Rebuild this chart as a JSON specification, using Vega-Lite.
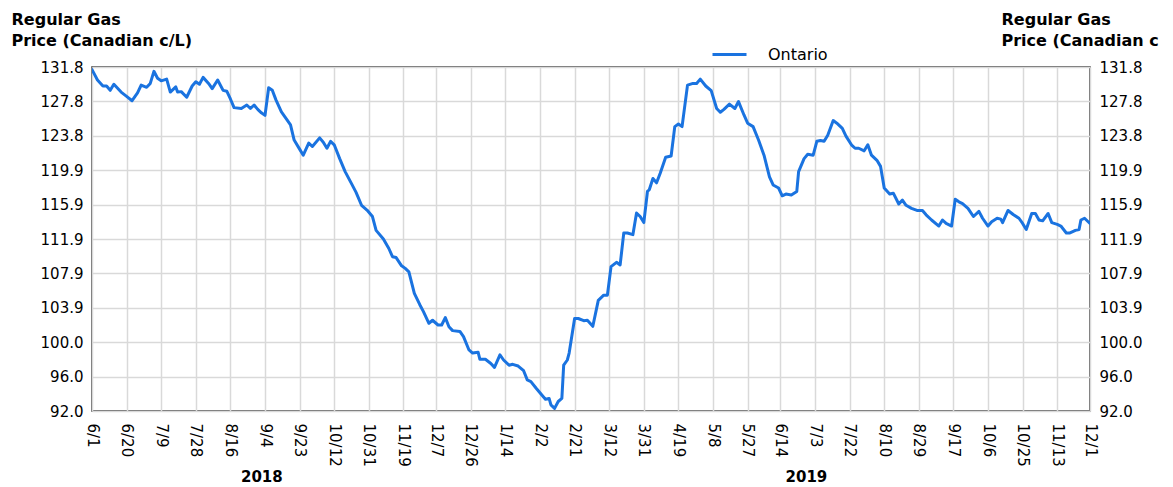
{
  "$schema": "https://vega.github.io/schema/vega-lite/v6.json",
  "width": 998,
  "height": 344,
  "autosize": {"type": "none"},
  "padding": {"left": 92, "top": 67, "right": 83, "bottom": 76},
  "background": "white",
  "config": {
    "font": "DejaVu Sans",
    "view": {"stroke": "#333333", "strokeWidth": 1.5},
    "axis": {
      "labelFontSize": 15,
      "labelColor": "#000000",
      "titleColor": "#000000",
      "gridColor": "#d9d9d9",
      "gridWidth": 1.5,
      "domain": false,
      "ticks": false
    }
  },
  "data": {
    "values": [
      {"date": "2018-06-01", "price": 131.5},
      {"date": "2018-06-04", "price": 130.3},
      {"date": "2018-06-07", "price": 129.6},
      {"date": "2018-06-09", "price": 129.6},
      {"date": "2018-06-11", "price": 129.1},
      {"date": "2018-06-13", "price": 129.8},
      {"date": "2018-06-17", "price": 128.9},
      {"date": "2018-06-20", "price": 128.4},
      {"date": "2018-06-23", "price": 127.9},
      {"date": "2018-06-26", "price": 128.8},
      {"date": "2018-06-28", "price": 129.7},
      {"date": "2018-07-01", "price": 129.45},
      {"date": "2018-07-03", "price": 129.9},
      {"date": "2018-07-05", "price": 131.3},
      {"date": "2018-07-07", "price": 130.5},
      {"date": "2018-07-09", "price": 130.2},
      {"date": "2018-07-12", "price": 130.4},
      {"date": "2018-07-14", "price": 128.9},
      {"date": "2018-07-17", "price": 129.5},
      {"date": "2018-07-18", "price": 128.9},
      {"date": "2018-07-20", "price": 128.95},
      {"date": "2018-07-23", "price": 128.3},
      {"date": "2018-07-26", "price": 129.6},
      {"date": "2018-07-28", "price": 130.1},
      {"date": "2018-07-30", "price": 129.8},
      {"date": "2018-08-01", "price": 130.6},
      {"date": "2018-08-04", "price": 129.9},
      {"date": "2018-08-06", "price": 129.3},
      {"date": "2018-08-09", "price": 130.3},
      {"date": "2018-08-12", "price": 129.1},
      {"date": "2018-08-14", "price": 129.0},
      {"date": "2018-08-16", "price": 128.1},
      {"date": "2018-08-18", "price": 127.1},
      {"date": "2018-08-22", "price": 127.0},
      {"date": "2018-08-25", "price": 127.4},
      {"date": "2018-08-27", "price": 127.0},
      {"date": "2018-08-29", "price": 127.4},
      {"date": "2018-08-31", "price": 126.9},
      {"date": "2018-09-02", "price": 126.5},
      {"date": "2018-09-04", "price": 126.2},
      {"date": "2018-09-06", "price": 129.4},
      {"date": "2018-09-08", "price": 129.1},
      {"date": "2018-09-10", "price": 128.0},
      {"date": "2018-09-13", "price": 126.6},
      {"date": "2018-09-16", "price": 125.7},
      {"date": "2018-09-18", "price": 125.1},
      {"date": "2018-09-20", "price": 123.35},
      {"date": "2018-09-23", "price": 122.3},
      {"date": "2018-09-25", "price": 121.6},
      {"date": "2018-09-28", "price": 123.0},
      {"date": "2018-09-30", "price": 122.6},
      {"date": "2018-10-04", "price": 123.6},
      {"date": "2018-10-06", "price": 123.1},
      {"date": "2018-10-08", "price": 122.4},
      {"date": "2018-10-10", "price": 123.2},
      {"date": "2018-10-12", "price": 122.8},
      {"date": "2018-10-15", "price": 121.2},
      {"date": "2018-10-18", "price": 119.7},
      {"date": "2018-10-22", "price": 118.1},
      {"date": "2018-10-24", "price": 117.3},
      {"date": "2018-10-27", "price": 115.8},
      {"date": "2018-10-30", "price": 115.25},
      {"date": "2018-11-02", "price": 114.5},
      {"date": "2018-11-04", "price": 112.9},
      {"date": "2018-11-08", "price": 111.9},
      {"date": "2018-11-11", "price": 110.8},
      {"date": "2018-11-13", "price": 109.85},
      {"date": "2018-11-15", "price": 109.75},
      {"date": "2018-11-18", "price": 108.8},
      {"date": "2018-11-20", "price": 108.5},
      {"date": "2018-11-22", "price": 108.1},
      {"date": "2018-11-25", "price": 105.6},
      {"date": "2018-11-28", "price": 104.3},
      {"date": "2018-11-30", "price": 103.5},
      {"date": "2018-12-03", "price": 102.15},
      {"date": "2018-12-05", "price": 102.5},
      {"date": "2018-12-08", "price": 101.95},
      {"date": "2018-12-10", "price": 101.95},
      {"date": "2018-12-12", "price": 102.8},
      {"date": "2018-12-14", "price": 101.75},
      {"date": "2018-12-16", "price": 101.3},
      {"date": "2018-12-20", "price": 101.2},
      {"date": "2018-12-22", "price": 100.6},
      {"date": "2018-12-25", "price": 99.06},
      {"date": "2018-12-27", "price": 98.7},
      {"date": "2018-12-30", "price": 98.8},
      {"date": "2018-12-31", "price": 97.98},
      {"date": "2019-01-03", "price": 97.98},
      {"date": "2019-01-06", "price": 97.5},
      {"date": "2019-01-08", "price": 97.05},
      {"date": "2019-01-11", "price": 98.5},
      {"date": "2019-01-13", "price": 97.9},
      {"date": "2019-01-16", "price": 97.3},
      {"date": "2019-01-18", "price": 97.4},
      {"date": "2019-01-21", "price": 97.2},
      {"date": "2019-01-24", "price": 96.66},
      {"date": "2019-01-26", "price": 95.6},
      {"date": "2019-01-28", "price": 95.4},
      {"date": "2019-01-31", "price": 94.6},
      {"date": "2019-02-03", "price": 93.85},
      {"date": "2019-02-05", "price": 93.35},
      {"date": "2019-02-07", "price": 93.45},
      {"date": "2019-02-08", "price": 92.7},
      {"date": "2019-02-10", "price": 92.3},
      {"date": "2019-02-12", "price": 93.1},
      {"date": "2019-02-14", "price": 93.45},
      {"date": "2019-02-15", "price": 97.3},
      {"date": "2019-02-17", "price": 97.9},
      {"date": "2019-02-18", "price": 98.7},
      {"date": "2019-02-21", "price": 102.7},
      {"date": "2019-02-23", "price": 102.7},
      {"date": "2019-02-26", "price": 102.45},
      {"date": "2019-02-28", "price": 102.5},
      {"date": "2019-03-03", "price": 101.8},
      {"date": "2019-03-06", "price": 104.8},
      {"date": "2019-03-09", "price": 105.4},
      {"date": "2019-03-11", "price": 105.4},
      {"date": "2019-03-13", "price": 108.7},
      {"date": "2019-03-16", "price": 109.2},
      {"date": "2019-03-18", "price": 108.9},
      {"date": "2019-03-20", "price": 112.6},
      {"date": "2019-03-22", "price": 112.6},
      {"date": "2019-03-25", "price": 112.4},
      {"date": "2019-03-27", "price": 114.9},
      {"date": "2019-03-29", "price": 114.5},
      {"date": "2019-03-31", "price": 113.8},
      {"date": "2019-04-02", "price": 117.4},
      {"date": "2019-04-03", "price": 117.6},
      {"date": "2019-04-05", "price": 118.9},
      {"date": "2019-04-07", "price": 118.4},
      {"date": "2019-04-09", "price": 119.5},
      {"date": "2019-04-12", "price": 121.35},
      {"date": "2019-04-15", "price": 121.5},
      {"date": "2019-04-17", "price": 124.9},
      {"date": "2019-04-19", "price": 125.2},
      {"date": "2019-04-21", "price": 124.9},
      {"date": "2019-04-24", "price": 129.7},
      {"date": "2019-04-27", "price": 129.9},
      {"date": "2019-04-29", "price": 129.9},
      {"date": "2019-05-01", "price": 130.4},
      {"date": "2019-05-04", "price": 129.6},
      {"date": "2019-05-07", "price": 129.06},
      {"date": "2019-05-10", "price": 127.0},
      {"date": "2019-05-12", "price": 126.56},
      {"date": "2019-05-14", "price": 126.9},
      {"date": "2019-05-17", "price": 127.5},
      {"date": "2019-05-20", "price": 127.0},
      {"date": "2019-05-22", "price": 127.8},
      {"date": "2019-05-25", "price": 126.25},
      {"date": "2019-05-27", "price": 125.3},
      {"date": "2019-05-30", "price": 124.9},
      {"date": "2019-06-02", "price": 123.35},
      {"date": "2019-06-05", "price": 121.6},
      {"date": "2019-06-08", "price": 119.1},
      {"date": "2019-06-10", "price": 118.15},
      {"date": "2019-06-13", "price": 117.8},
      {"date": "2019-06-15", "price": 116.9},
      {"date": "2019-06-17", "price": 117.1},
      {"date": "2019-06-20", "price": 117.0},
      {"date": "2019-06-23", "price": 117.4},
      {"date": "2019-06-24", "price": 119.7},
      {"date": "2019-06-27", "price": 121.2},
      {"date": "2019-06-29", "price": 121.7},
      {"date": "2019-07-02", "price": 121.6},
      {"date": "2019-07-04", "price": 123.2},
      {"date": "2019-07-06", "price": 123.3},
      {"date": "2019-07-08", "price": 123.2},
      {"date": "2019-07-10", "price": 123.9},
      {"date": "2019-07-13", "price": 125.6},
      {"date": "2019-07-15", "price": 125.3},
      {"date": "2019-07-18", "price": 124.7},
      {"date": "2019-07-20", "price": 123.8},
      {"date": "2019-07-23", "price": 122.8},
      {"date": "2019-07-25", "price": 122.4},
      {"date": "2019-07-27", "price": 122.4},
      {"date": "2019-07-30", "price": 122.1},
      {"date": "2019-08-01", "price": 122.8},
      {"date": "2019-08-03", "price": 121.6},
      {"date": "2019-08-06", "price": 121.0},
      {"date": "2019-08-08", "price": 120.3},
      {"date": "2019-08-10", "price": 117.8},
      {"date": "2019-08-13", "price": 117.1},
      {"date": "2019-08-15", "price": 117.2},
      {"date": "2019-08-18", "price": 115.95},
      {"date": "2019-08-20", "price": 116.4},
      {"date": "2019-08-22", "price": 115.8},
      {"date": "2019-08-25", "price": 115.45},
      {"date": "2019-08-28", "price": 115.2},
      {"date": "2019-08-31", "price": 115.2},
      {"date": "2019-09-02", "price": 114.7},
      {"date": "2019-09-05", "price": 114.1},
      {"date": "2019-09-09", "price": 113.4},
      {"date": "2019-09-11", "price": 114.1},
      {"date": "2019-09-13", "price": 113.7},
      {"date": "2019-09-16", "price": 113.4},
      {"date": "2019-09-18", "price": 116.5},
      {"date": "2019-09-20", "price": 116.2},
      {"date": "2019-09-22", "price": 116.0},
      {"date": "2019-09-25", "price": 115.45},
      {"date": "2019-09-28", "price": 114.5},
      {"date": "2019-10-01", "price": 115.1},
      {"date": "2019-10-03", "price": 114.3},
      {"date": "2019-10-06", "price": 113.4},
      {"date": "2019-10-08", "price": 113.9},
      {"date": "2019-10-11", "price": 114.3},
      {"date": "2019-10-13", "price": 114.2},
      {"date": "2019-10-14", "price": 113.8},
      {"date": "2019-10-17", "price": 115.2},
      {"date": "2019-10-20", "price": 114.7},
      {"date": "2019-10-23", "price": 114.3},
      {"date": "2019-10-25", "price": 113.7},
      {"date": "2019-10-27", "price": 113.0},
      {"date": "2019-10-30", "price": 114.85},
      {"date": "2019-11-01", "price": 114.85},
      {"date": "2019-11-03", "price": 114.1},
      {"date": "2019-11-05", "price": 114.0},
      {"date": "2019-11-08", "price": 114.85},
      {"date": "2019-11-10", "price": 113.8},
      {"date": "2019-11-13", "price": 113.6},
      {"date": "2019-11-15", "price": 113.4},
      {"date": "2019-11-18", "price": 112.6},
      {"date": "2019-11-20", "price": 112.6},
      {"date": "2019-11-23", "price": 112.9},
      {"date": "2019-11-25", "price": 113.0},
      {"date": "2019-11-26", "price": 114.1},
      {"date": "2019-11-28", "price": 114.3},
      {"date": "2019-11-30", "price": 113.9},
      {"date": "2019-12-01", "price": 113.7}
    ]
  },
  "layer": [
    {
      "mark": {"type": "line", "strokeWidth": 3, "strokeJoin": "round", "strokeCap": "round", "clip": true},
      "encoding": {
        "x": {
          "field": "date",
          "type": "temporal",
          "scale": {
            "type": "utc",
            "domain": [
              {"year": 2018, "month": 6, "date": 1, "utc": true},
              {"year": 2019, "month": 12, "date": 1, "utc": true}
            ],
            "nice": false
          },
          "axis": {
            "orient": "bottom",
            "title": null,
            "grid": true,
            "labelAngle": 90,
            "labelPadding": 12,
            "labelFlush": false,
            "labelOverlap": false,
            "labelBound": false,
            "labelExpr": "utcFormat(datum.value, '%-m/%-d')",
            "values": [
              {"year": 2018, "month": 6, "date": 1, "utc": true},
              {"year": 2018, "month": 6, "date": 20, "utc": true},
              {"year": 2018, "month": 7, "date": 9, "utc": true},
              {"year": 2018, "month": 7, "date": 28, "utc": true},
              {"year": 2018, "month": 8, "date": 16, "utc": true},
              {"year": 2018, "month": 9, "date": 4, "utc": true},
              {"year": 2018, "month": 9, "date": 23, "utc": true},
              {"year": 2018, "month": 10, "date": 12, "utc": true},
              {"year": 2018, "month": 10, "date": 31, "utc": true},
              {"year": 2018, "month": 11, "date": 19, "utc": true},
              {"year": 2018, "month": 12, "date": 7, "utc": true},
              {"year": 2018, "month": 12, "date": 26, "utc": true},
              {"year": 2019, "month": 1, "date": 14, "utc": true},
              {"year": 2019, "month": 2, "date": 2, "utc": true},
              {"year": 2019, "month": 2, "date": 21, "utc": true},
              {"year": 2019, "month": 3, "date": 12, "utc": true},
              {"year": 2019, "month": 3, "date": 31, "utc": true},
              {"year": 2019, "month": 4, "date": 19, "utc": true},
              {"year": 2019, "month": 5, "date": 8, "utc": true},
              {"year": 2019, "month": 5, "date": 27, "utc": true},
              {"year": 2019, "month": 6, "date": 14, "utc": true},
              {"year": 2019, "month": 7, "date": 3, "utc": true},
              {"year": 2019, "month": 7, "date": 22, "utc": true},
              {"year": 2019, "month": 8, "date": 10, "utc": true},
              {"year": 2019, "month": 8, "date": 29, "utc": true},
              {"year": 2019, "month": 9, "date": 17, "utc": true},
              {"year": 2019, "month": 10, "date": 6, "utc": true},
              {"year": 2019, "month": 10, "date": 25, "utc": true},
              {"year": 2019, "month": 11, "date": 13, "utc": true},
              {"year": 2019, "month": 12, "date": 1, "utc": true}
            ]
          }
        },
        "y": {
          "field": "price",
          "type": "quantitative",
          "scale": {"domain": [92, 131.8], "nice": false, "zero": false},
          "axis": {
            "orient": "left",
            "values": [92, 95.98, 99.96, 103.94, 107.92, 111.9, 115.88, 119.86, 123.84, 127.82, 131.8],
            "format": ".1f",
            "grid": true,
            "labelPadding": 9,
            "title": ["Regular Gas", "Price (Canadian c/L)"],
            "titleAngle": 0,
            "titleAlign": "left",
            "titleBaseline": "alphabetic",
            "titleX": -81,
            "titleY": -43,
            "titleFontSize": 16,
            "titleFontWeight": "bold",
            "titleLineHeight": 21
          }
        },
        "color": {
          "datum": "Ontario",
          "scale": {"range": ["#1a73e0"]},
          "legend": {
            "orient": "none",
            "legendX": 619,
            "legendY": -31,
            "title": null,
            "symbolType": "stroke",
            "symbolSize": 1156,
            "symbolStrokeWidth": 3,
            "labelFontSize": 16,
            "labelColor": "#000000",
            "labelOffset": 20
          }
        }
      }
    },
    {
      "mark": {"type": "line", "opacity": 0},
      "encoding": {
        "x": {
          "field": "date",
          "type": "temporal",
          "scale": {
            "type": "utc",
            "domain": [
              {"year": 2018, "month": 6, "date": 1, "utc": true},
              {"year": 2019, "month": 12, "date": 1, "utc": true}
            ],
            "nice": false
          },
          "axis": {
            "orient": "bottom",
            "title": null,
            "grid": false,
            "labelPadding": 58,
            "labelFontSize": 15,
            "labelFontWeight": "bold",
            "labelFlush": false,
            "labelOverlap": false,
            "labelExpr": "utcFormat(datum.value, '%Y')",
            "values": [
              {"year": 2018, "month": 9, "date": 2, "utc": true},
              {"year": 2019, "month": 6, "date": 28, "utc": true}
            ]
          }
        },
        "y": {
          "field": "price",
          "type": "quantitative",
          "scale": {"domain": [92, 131.8], "nice": false, "zero": false},
          "axis": {
            "orient": "right",
            "values": [92, 95.98, 99.96, 103.94, 107.92, 111.9, 115.88, 119.86, 123.84, 127.82, 131.8],
            "format": ".1f",
            "grid": false,
            "labelPadding": 9,
            "title": ["Regular Gas", "Price (Canadian c"],
            "titleAngle": 0,
            "titleAlign": "left",
            "titleBaseline": "alphabetic",
            "titleX": -89,
            "titleY": -43,
            "titleFontSize": 16,
            "titleFontWeight": "bold",
            "titleLineHeight": 21
          }
        }
      }
    }
  ],
  "resolve": {"axis": {"x": "independent", "y": "independent"}}
}
